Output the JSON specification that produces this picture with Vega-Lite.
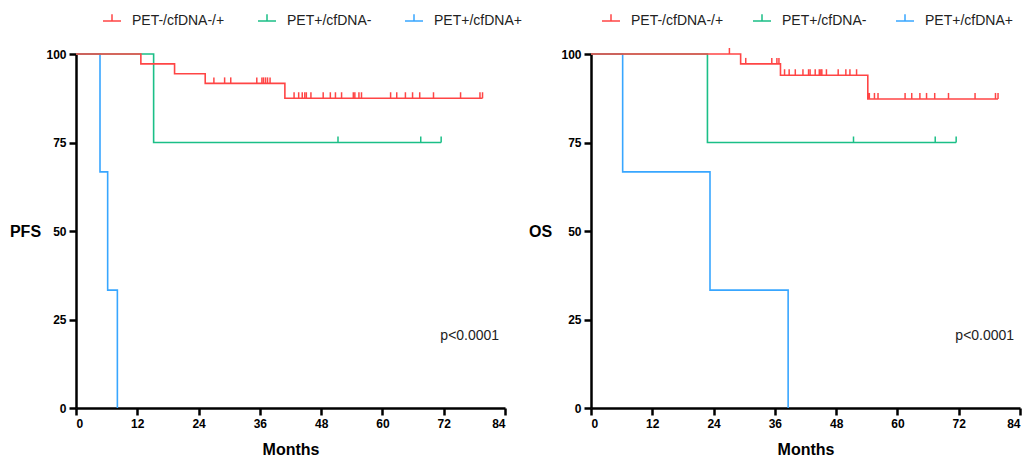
{
  "$schema": "https://vega.github.io/schema/vega-lite/v6.json",
  "padding": {"left": 9, "top": 11, "right": 0, "bottom": 0},
  "background": "white",
  "spacing": 86,
  "bounds": "flush",
  "config": {
    "view": {"stroke": null},
    "font": "Liberation Sans",
    "axis": {
      "grid": false,
      "domainColor": "black",
      "domainWidth": 2.5,
      "tickColor": "black",
      "tickWidth": 2.5,
      "tickSize": 7,
      "labelColor": "black",
      "labelFont": "Liberation Sans",
      "labelFontSize": 12,
      "labelFontWeight": "bold",
      "labelPadding": 3,
      "titleFont": "Liberation Sans",
      "titleFontSize": 16,
      "titleFontWeight": "bold",
      "titleColor": "black"
    },
    "legend": {
      "orient": "none",
      "direction": "horizontal",
      "legendY": -43,
      "title": null,
      "labelFont": "Liberation Sans",
      "labelFontSize": 14,
      "labelColor": "#222",
      "symbolType": "M-1,0L1,0M0,0L0,-0.75",
      "symbolSize": 324,
      "symbolStrokeWidth": 1.5,
      "labelOffset": 10
    }
  },
  "resolve": {"scale": {"color": "independent"}, "legend": {"color": "independent"}},
  "datasets": {
    "curves": [
      {"panel": "PFS", "group": "PET+/cfDNA+", "t": 0, "s": 100},
      {"panel": "PFS", "group": "PET+/cfDNA+", "t": 4.7, "s": 66.7},
      {"panel": "PFS", "group": "PET+/cfDNA+", "t": 6.2, "s": 33.3},
      {"panel": "PFS", "group": "PET+/cfDNA+", "t": 8.1, "s": 0},
      {"panel": "PFS", "group": "PET+/cfDNA-", "t": 0, "s": 100},
      {"panel": "PFS", "group": "PET+/cfDNA-", "t": 15.2, "s": 75},
      {"panel": "PFS", "group": "PET+/cfDNA-", "t": 71.5, "s": 75},
      {"panel": "PFS", "group": "PET-/cfDNA-/+", "t": 0, "s": 100},
      {"panel": "PFS", "group": "PET-/cfDNA-/+", "t": 12.7, "s": 97.2},
      {"panel": "PFS", "group": "PET-/cfDNA-/+", "t": 19.3, "s": 94.4},
      {"panel": "PFS", "group": "PET-/cfDNA-/+", "t": 25.3, "s": 91.7},
      {"panel": "PFS", "group": "PET-/cfDNA-/+", "t": 40.9, "s": 87.5},
      {"panel": "PFS", "group": "PET-/cfDNA-/+", "t": 79.6, "s": 87.5},
      {"panel": "OS", "group": "PET+/cfDNA+", "t": 0, "s": 100},
      {"panel": "OS", "group": "PET+/cfDNA+", "t": 6.2, "s": 66.7},
      {"panel": "OS", "group": "PET+/cfDNA+", "t": 23.3, "s": 33.3},
      {"panel": "OS", "group": "PET+/cfDNA+", "t": 38.6, "s": 0},
      {"panel": "OS", "group": "PET+/cfDNA-", "t": 0, "s": 100},
      {"panel": "OS", "group": "PET+/cfDNA-", "t": 22.8, "s": 75},
      {"panel": "OS", "group": "PET+/cfDNA-", "t": 71.5, "s": 75},
      {"panel": "OS", "group": "PET-/cfDNA-/+", "t": 0, "s": 100},
      {"panel": "OS", "group": "PET-/cfDNA-/+", "t": 29.3, "s": 97.2},
      {"panel": "OS", "group": "PET-/cfDNA-/+", "t": 37.1, "s": 94.0},
      {"panel": "OS", "group": "PET-/cfDNA-/+", "t": 54.2, "s": 87.3},
      {"panel": "OS", "group": "PET-/cfDNA-/+", "t": 79.7, "s": 87.3}
    ],
    "censored": [
      {"panel": "PFS", "group": "PET+/cfDNA-", "t": 51.3, "s": 75},
      {"panel": "PFS", "group": "PET+/cfDNA-", "t": 67.5, "s": 75},
      {"panel": "PFS", "group": "PET+/cfDNA-", "t": 71.5, "s": 75},
      {"panel": "PFS", "group": "PET-/cfDNA-/+", "t": 27.0, "s": 91.7},
      {"panel": "PFS", "group": "PET-/cfDNA-/+", "t": 29.1, "s": 91.7},
      {"panel": "PFS", "group": "PET-/cfDNA-/+", "t": 30.3, "s": 91.7},
      {"panel": "PFS", "group": "PET-/cfDNA-/+", "t": 35.4, "s": 91.7},
      {"panel": "PFS", "group": "PET-/cfDNA-/+", "t": 36.4, "s": 91.7},
      {"panel": "PFS", "group": "PET-/cfDNA-/+", "t": 36.7, "s": 91.7},
      {"panel": "PFS", "group": "PET-/cfDNA-/+", "t": 37.1, "s": 91.7},
      {"panel": "PFS", "group": "PET-/cfDNA-/+", "t": 37.5, "s": 91.7},
      {"panel": "PFS", "group": "PET-/cfDNA-/+", "t": 38.0, "s": 91.7},
      {"panel": "PFS", "group": "PET-/cfDNA-/+", "t": 42.7, "s": 87.5},
      {"panel": "PFS", "group": "PET-/cfDNA-/+", "t": 43.6, "s": 87.5},
      {"panel": "PFS", "group": "PET-/cfDNA-/+", "t": 44.3, "s": 87.5},
      {"panel": "PFS", "group": "PET-/cfDNA-/+", "t": 44.8, "s": 87.5},
      {"panel": "PFS", "group": "PET-/cfDNA-/+", "t": 45.1, "s": 87.5},
      {"panel": "PFS", "group": "PET-/cfDNA-/+", "t": 46.0, "s": 87.5},
      {"panel": "PFS", "group": "PET-/cfDNA-/+", "t": 48.4, "s": 87.5},
      {"panel": "PFS", "group": "PET-/cfDNA-/+", "t": 49.8, "s": 87.5},
      {"panel": "PFS", "group": "PET-/cfDNA-/+", "t": 50.8, "s": 87.5},
      {"panel": "PFS", "group": "PET-/cfDNA-/+", "t": 52.0, "s": 87.5},
      {"panel": "PFS", "group": "PET-/cfDNA-/+", "t": 54.3, "s": 87.5},
      {"panel": "PFS", "group": "PET-/cfDNA-/+", "t": 54.6, "s": 87.5},
      {"panel": "PFS", "group": "PET-/cfDNA-/+", "t": 55.4, "s": 87.5},
      {"panel": "PFS", "group": "PET-/cfDNA-/+", "t": 55.9, "s": 87.5},
      {"panel": "PFS", "group": "PET-/cfDNA-/+", "t": 61.6, "s": 87.5},
      {"panel": "PFS", "group": "PET-/cfDNA-/+", "t": 62.8, "s": 87.5},
      {"panel": "PFS", "group": "PET-/cfDNA-/+", "t": 64.5, "s": 87.5},
      {"panel": "PFS", "group": "PET-/cfDNA-/+", "t": 65.9, "s": 87.5},
      {"panel": "PFS", "group": "PET-/cfDNA-/+", "t": 67.3, "s": 87.5},
      {"panel": "PFS", "group": "PET-/cfDNA-/+", "t": 70.0, "s": 87.5},
      {"panel": "PFS", "group": "PET-/cfDNA-/+", "t": 75.3, "s": 87.5},
      {"panel": "PFS", "group": "PET-/cfDNA-/+", "t": 79.1, "s": 87.5},
      {"panel": "PFS", "group": "PET-/cfDNA-/+", "t": 79.6, "s": 87.5},
      {"panel": "OS", "group": "PET+/cfDNA-", "t": 51.4, "s": 75},
      {"panel": "OS", "group": "PET+/cfDNA-", "t": 67.4, "s": 75},
      {"panel": "OS", "group": "PET+/cfDNA-", "t": 71.5, "s": 75},
      {"panel": "OS", "group": "PET-/cfDNA-/+", "t": 27.1, "s": 100},
      {"panel": "OS", "group": "PET-/cfDNA-/+", "t": 30.3, "s": 97.2},
      {"panel": "OS", "group": "PET-/cfDNA-/+", "t": 35.4, "s": 97.2},
      {"panel": "OS", "group": "PET-/cfDNA-/+", "t": 36.4, "s": 97.2},
      {"panel": "OS", "group": "PET-/cfDNA-/+", "t": 36.8, "s": 97.2},
      {"panel": "OS", "group": "PET-/cfDNA-/+", "t": 37.9, "s": 94.0},
      {"panel": "OS", "group": "PET-/cfDNA-/+", "t": 38.8, "s": 94.0},
      {"panel": "OS", "group": "PET-/cfDNA-/+", "t": 40.0, "s": 94.0},
      {"panel": "OS", "group": "PET-/cfDNA-/+", "t": 41.5, "s": 94.0},
      {"panel": "OS", "group": "PET-/cfDNA-/+", "t": 42.6, "s": 94.0},
      {"panel": "OS", "group": "PET-/cfDNA-/+", "t": 42.9, "s": 94.0},
      {"panel": "OS", "group": "PET-/cfDNA-/+", "t": 43.9, "s": 94.0},
      {"panel": "OS", "group": "PET-/cfDNA-/+", "t": 44.7, "s": 94.0},
      {"panel": "OS", "group": "PET-/cfDNA-/+", "t": 45.0, "s": 94.0},
      {"panel": "OS", "group": "PET-/cfDNA-/+", "t": 45.2, "s": 94.0},
      {"panel": "OS", "group": "PET-/cfDNA-/+", "t": 46.1, "s": 94.0},
      {"panel": "OS", "group": "PET-/cfDNA-/+", "t": 48.4, "s": 94.0},
      {"panel": "OS", "group": "PET-/cfDNA-/+", "t": 49.9, "s": 94.0},
      {"panel": "OS", "group": "PET-/cfDNA-/+", "t": 50.7, "s": 94.0},
      {"panel": "OS", "group": "PET-/cfDNA-/+", "t": 52.0, "s": 94.0},
      {"panel": "OS", "group": "PET-/cfDNA-/+", "t": 54.3, "s": 87.3},
      {"panel": "OS", "group": "PET-/cfDNA-/+", "t": 54.5, "s": 87.3},
      {"panel": "OS", "group": "PET-/cfDNA-/+", "t": 55.5, "s": 87.3},
      {"panel": "OS", "group": "PET-/cfDNA-/+", "t": 56.2, "s": 87.3},
      {"panel": "OS", "group": "PET-/cfDNA-/+", "t": 61.5, "s": 87.3},
      {"panel": "OS", "group": "PET-/cfDNA-/+", "t": 62.8, "s": 87.3},
      {"panel": "OS", "group": "PET-/cfDNA-/+", "t": 64.4, "s": 87.3},
      {"panel": "OS", "group": "PET-/cfDNA-/+", "t": 65.7, "s": 87.3},
      {"panel": "OS", "group": "PET-/cfDNA-/+", "t": 67.3, "s": 87.3},
      {"panel": "OS", "group": "PET-/cfDNA-/+", "t": 70.0, "s": 87.3},
      {"panel": "OS", "group": "PET-/cfDNA-/+", "t": 75.2, "s": 87.3},
      {"panel": "OS", "group": "PET-/cfDNA-/+", "t": 79.2, "s": 87.3},
      {"panel": "OS", "group": "PET-/cfDNA-/+", "t": 79.7, "s": 87.3}
    ]
  },
  "hconcat": [
    {
      "width": 429,
      "height": 354,
      "layer": [
        {
          "data": {"name": "curves"},
          "transform": [{"filter": "datum.panel == 'PFS'"}],
          "mark": {"type": "line", "interpolate": "step-after", "strokeWidth": 1.6},
          "encoding": {
            "x": {"field": "t", "type": "quantitative", "scale": {"domain": [0, 84], "nice": false}, "axis": {"values": [0, 12, 24, 36, 48, 60, 72, 84], "title": "Months", "titleY": 41, "titleBaseline": "middle"}},
            "y": {"field": "s", "type": "quantitative", "scale": {"domain": [0, 100]}, "axis": {"values": [0, 25, 50, 75, 100], "title": "PFS", "titleAngle": 0, "titleX": -51, "titleY": 177, "titleAlign": "center", "titleBaseline": "middle"}},
            "color": {"field": "group", "type": "nominal", "scale": {"domain": ["PET-/cfDNA-/+", "PET+/cfDNA-", "PET+/cfDNA+"], "range": ["#ff4545", "#1bbf87", "#38a6ff"]}, "legend": {"legendX": 26, "columnPadding": 30}}
          }
        },
        {
          "data": {"name": "censored"},
          "transform": [{"filter": "datum.panel == 'PFS'"}],
          "mark": {"type": "point", "shape": "M0,0L0,-1", "filled": false, "size": 144, "strokeWidth": 1.5, "opacity": 1},
          "encoding": {
            "x": {"field": "t", "type": "quantitative"},
            "y": {"field": "s", "type": "quantitative"},
            "color": {"field": "group", "type": "nominal"}
          }
        },
        {
          "data": {"values": [{"p": "p<0.0001"}]},
          "mark": {"type": "text", "fontSize": 14, "color": "#222", "font": "Liberation Sans"},
          "encoding": {
            "x": {"datum": 77.1, "type": "quantitative"},
            "y": {"datum": 20.3, "type": "quantitative"},
            "text": {"field": "p"}
          }
        }
      ]
    },
    {
      "width": 429,
      "height": 354,
      "layer": [
        {
          "data": {"name": "curves"},
          "transform": [{"filter": "datum.panel == 'OS'"}],
          "mark": {"type": "line", "interpolate": "step-after", "strokeWidth": 1.6},
          "encoding": {
            "x": {"field": "t", "type": "quantitative", "scale": {"domain": [0, 84], "nice": false}, "axis": {"values": [0, 12, 24, 36, 48, 60, 72, 84], "title": "Months", "titleY": 41, "titleBaseline": "middle"}},
            "y": {"field": "s", "type": "quantitative", "scale": {"domain": [0, 100]}, "axis": {"values": [0, 25, 50, 75, 100], "title": "OS", "titleAngle": 0, "titleX": -51, "titleY": 177, "titleAlign": "center", "titleBaseline": "middle"}},
            "color": {"field": "group", "type": "nominal", "scale": {"domain": ["PET-/cfDNA-/+", "PET+/cfDNA-", "PET+/cfDNA+"], "range": ["#ff4545", "#1bbf87", "#38a6ff"]}, "legend": {"legendX": 10, "columnPadding": 26}}
          }
        },
        {
          "data": {"name": "censored"},
          "transform": [{"filter": "datum.panel == 'OS'"}],
          "mark": {"type": "point", "shape": "M0,0L0,-1", "filled": false, "size": 144, "strokeWidth": 1.5, "opacity": 1},
          "encoding": {
            "x": {"field": "t", "type": "quantitative"},
            "y": {"field": "s", "type": "quantitative"},
            "color": {"field": "group", "type": "nominal"}
          }
        },
        {
          "data": {"values": [{"p": "p<0.0001"}]},
          "mark": {"type": "text", "fontSize": 14, "color": "#222", "font": "Liberation Sans"},
          "encoding": {
            "x": {"datum": 77.1, "type": "quantitative"},
            "y": {"datum": 20.3, "type": "quantitative"},
            "text": {"field": "p"}
          }
        }
      ]
    }
  ]
}
